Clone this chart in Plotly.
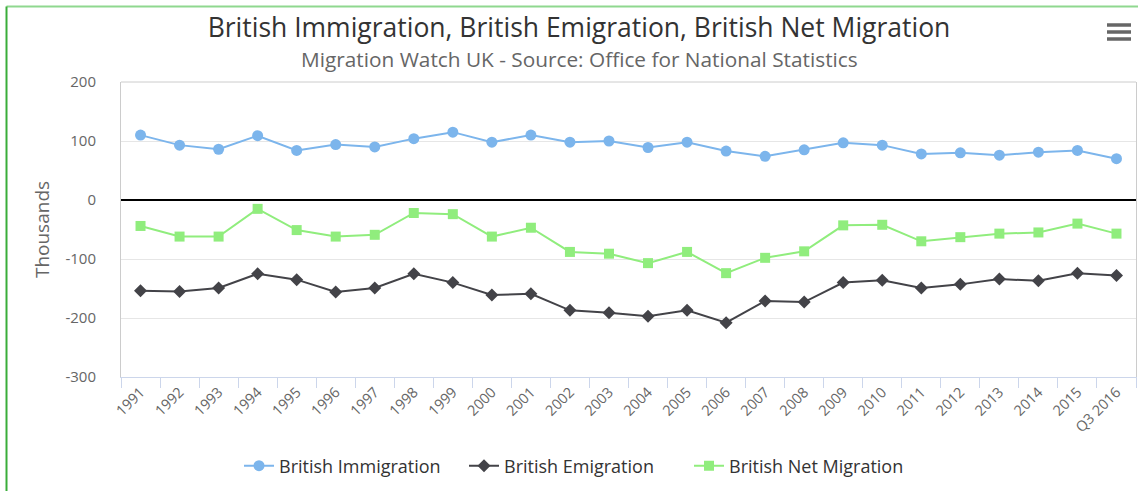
import plotly.graph_objects as go

years = [str(y) for y in range(1991, 2016)] + ["Q3 2016"]
immigration = [110, 93, 86, 109, 84, 94, 90, 104, 115, 98, 110, 98, 100, 89, 98, 83, 74, 85, 97, 93, 78, 80, 76, 81, 84, 70]
emigration = [-154, -155, -149, -125, -135, -156, -149, -125, -140, -161, -159, -187, -191, -197, -187, -208, -171, -173, -140, -136, -149, -143, -134, -137, -124, -128]
net_migration = [-44, -62, -62, -15, -51, -62, -59, -22, -24, -62, -47, -88, -91, -107, -88, -124, -98, -87, -43, -42, -70, -63, -57, -55, -40, -57]
y_tickvals = [-300, -200, -100, 0, 100, 200]
y_ticktext = ["-300", "-200", "-100", "0", "100", "200"]

FONT = "Open Sans"
W, H = 1138, 491
L, R, T, B = 121, 2, 82, 114
PW, PH = W - L - R, H - T - B

def px_x(p):
    return (p - L) / PW

def px_y(p):
    return (H - B - p) / PH

fig = go.Figure()
fig.add_trace(go.Scatter(x=years, y=immigration, name="British Immigration", mode="lines+markers",
                         line=dict(color="#7cb5ec", width=2),
                         marker=dict(symbol="circle", size=11, color="#7cb5ec")))
fig.add_trace(go.Scatter(x=years, y=emigration, name="British Emigration", mode="lines+markers",
                         line=dict(color="#434348", width=2),
                         marker=dict(symbol="diamond", size=10, color="#434348")))
fig.add_trace(go.Scatter(x=years, y=net_migration, name="British Net Migration", mode="lines+markers",
                         line=dict(color="#90ed7d", width=2),
                         marker=dict(symbol="square", size=10, color="#90ed7d")))

shapes = [
    dict(type="line", xref="paper", yref="paper", x0=0, x1=1, y0=1, y1=1, line=dict(color="#cccccc", width=1)),
    dict(type="line", xref="paper", yref="paper", x0=px_x(6.5), x1=px_x(1200), y0=px_y(6.5), y1=px_y(6.5),
         line=dict(color="#8fd88f", width=2)),
    dict(type="line", xref="paper", yref="paper", x0=px_x(6.5), x1=px_x(6.5), y0=px_y(6.5), y1=px_y(600),
         line=dict(color="#3aad3a", width=2)),
]
for yy in (25, 32, 39):
    shapes.append(dict(type="line", xref="paper", yref="paper", x0=px_x(1107), x1=px_x(1131),
                       y0=px_y(yy), y1=px_y(yy), line=dict(color="#666666", width=3.5)))

fig.update_layout(
    width=W, height=H,
    margin=dict(l=L, r=R, t=T, b=B),
    paper_bgcolor="white", plot_bgcolor="white",
    font=dict(family=FONT, color="#666666"),
    title=dict(text="British Immigration, British Emigration, British Net Migration",
               x=579 / W, xanchor="center", xref="container",
               y=1 - 28 / H, yanchor="middle", yref="container",
               font=dict(size=26.5, color="#333333", family=FONT)),
    annotations=[dict(text="Migration Watch UK - Source: Office for National Statistics",
                      xref="paper", yref="paper", x=px_x(579), y=px_y(59),
                      xanchor="center", yanchor="middle", showarrow=False,
                      font=dict(size=20.8, color="#666666", family=FONT))],
    shapes=shapes,
    showlegend=True,
    legend=dict(orientation="h", x=px_x(239), xanchor="left", y=px_y(466), yanchor="middle",
                font=dict(size=18, color="#333333", family=FONT), itemclick=False,
                entrywidth=180, entrywidthmode="pixels", itemwidth=30,
                tracegroupgap=0),
    xaxis=dict(type="category", range=[-0.5, len(years) - 0.5], tickson="boundaries",
               ticks="outside", ticklen=10, tickcolor="#ccd6eb", tickwidth=1,
               showline=True, linecolor="#ccd6eb", linewidth=1, showgrid=False,
               tickangle=-45, tickfont=dict(size=14.5, color="#666666"), fixedrange=True),
    yaxis=dict(range=[-300, 200], tickvals=y_tickvals, ticktext=y_ticktext,
               showgrid=True, gridcolor="#e6e6e6", gridwidth=1,
               zeroline=True, zerolinecolor="#000000", zerolinewidth=1.5,
               showline=True, mirror=True, linecolor="#cccccc", linewidth=1,
               ticks="", ticklabelstandoff=21,
               tickfont=dict(size=15, color="#666666"),
               title=dict(text="Thousands", font=dict(size=19, color="#666666"), standoff=10),
               fixedrange=True),
)

fig.write_html("out.html", config={"displayModeBar": False},
               post_script="document.body.style.margin='0';document.body.style.padding='0';")
